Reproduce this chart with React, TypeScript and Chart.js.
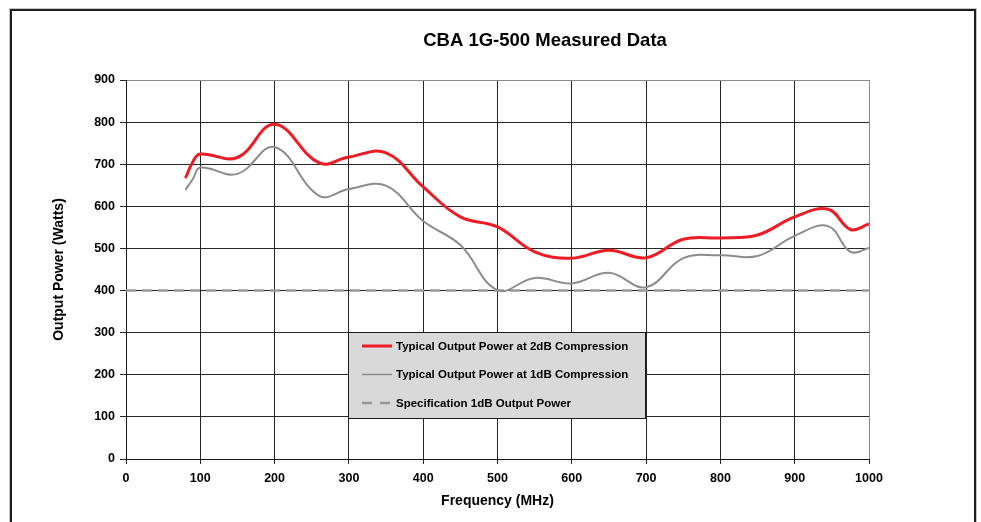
import { useEffect, useRef } from "react";
import { Chart, registerables } from "chart.js";

Chart.register(...registerables);

const FONT = "'Liberation Sans', Arial, Helvetica, sans-serif";

const chartTitle = "CBA 1G-500 Measured Data";
const xAxisTitle = "Frequency (MHz)";
const yAxisTitle = "Output Power (Watts)";

const frequencies = [80, 90, 100, 150, 200, 260, 300, 350, 400, 450, 500, 550, 600, 650, 700, 750, 800, 850, 900, 945, 975, 1000];
const power2dB = [667, 706, 724, 716, 795, 703, 717, 727, 646, 575, 551, 492, 477, 496, 478, 522, 525, 532, 575, 593, 545, 558];
const power1dB = [639, 665, 692, 677, 741, 625, 641, 649, 565, 508, 401, 430, 417, 442, 408, 477, 484, 482, 530, 553, 492, 501];
const specFrequencies = [0, 1000];
const specPower = [400, 400];

const seriesLabels = [
  "Typical Output Power at 2dB Compression",
  "Typical Output Power at 1dB Compression",
  "Specification 1dB Output Power",
];

const xMin = 0;
const xMax = 1000;
const xStep = 100;
const yMin = 0;
const yMax = 900;
const yStep = 100;

const toPoints = (xs: number[], ys: number[]) => xs.map((x, i) => ({ x, y: ys[i] }));

const framePlugin = {
  id: "frame",
  beforeDraw(chart: any) {
    const { ctx, width, height } = chart;
    ctx.save();
    ctx.fillStyle = "#ffffff";
    ctx.fillRect(0, 0, width, height);
    ctx.strokeStyle = "#c8c8c8";
    ctx.lineWidth = 1;
    ctx.strokeRect(9.5, 8.5, 967, height + 20);
    ctx.strokeStyle = "#1e1e1e";
    ctx.lineWidth = 2;
    ctx.strokeRect(11, 10, 964, height + 20);
    ctx.restore();
  },
  afterDraw(chart: any) {
    const { ctx } = chart;
    ctx.save();
    ctx.fillStyle = "#000000";
    ctx.font = `bold 18.5px ${FONT}`;
    ctx.textAlign = "center";
    ctx.textBaseline = "middle";
    ctx.fillText(chartTitle, 545, 41);
    ctx.restore();
  },
};

const legendBoxPlugin = {
  id: "legendBox",
  afterDatasetsDraw(chart: any) {
    const { ctx, chartArea } = chart;
    const left = chartArea.left + 222;
    const top = chartArea.top + 252;
    const w = 297;
    const h = 86;
    ctx.save();
    ctx.fillStyle = "#d9d9d9";
    ctx.fillRect(left, top, w, h);
    ctx.strokeStyle = "#1a1a1a";
    ctx.lineWidth = 1;
    ctx.strokeRect(left + 0.5, top + 0.5, w, h);
    const rows = [14, 42.5, 71];
    chart.data.datasets.forEach((ds: any, i: number) => {
      const y = top + rows[i];
      ctx.beginPath();
      ctx.strokeStyle = ds.borderColor;
      ctx.lineWidth = i === 1 ? 1.5 : ds.borderWidth;
      ctx.setLineDash(ds.borderDash ? [10, 8] : []);
      ctx.moveTo(left + 14, y);
      ctx.lineTo(left + 44, y);
      ctx.stroke();
      ctx.setLineDash([]);
      ctx.fillStyle = "#000000";
      ctx.font = `bold 11.5px ${FONT}`;
      ctx.textAlign = "left";
      ctx.textBaseline = "middle";
      ctx.fillText(ds.label, left + 48, y + 0.5);
    });
    ctx.restore();
  },
};

export default function App() {
  const canvasRef = useRef<HTMLCanvasElement | null>(null);

  useEffect(() => {
    document.body.style.margin = "0";
    const canvas = canvasRef.current;
    if (!canvas) return;
    const chart = new Chart(canvas, {
      type: "line",
      data: {
        datasets: [
          {
            label: seriesLabels[0],
            data: toPoints(frequencies, power2dB),
            borderColor: "#ee1c25",
            borderWidth: 3,
            pointRadius: 0,
            tension: 0.4,
            fill: false,
          },
          {
            label: seriesLabels[1],
            data: toPoints(frequencies, power1dB),
            borderColor: "#8c8c8c",
            borderWidth: 2,
            pointRadius: 0,
            tension: 0.4,
            fill: false,
          },
          {
            label: seriesLabels[2],
            data: toPoints(specFrequencies, specPower),
            borderColor: "#999999",
            borderWidth: 2.5,
            borderDash: [10, 6],
            pointRadius: 0,
            tension: 0,
            fill: false,
          },
        ],
      },
      options: {
        animation: false,
        responsive: false,
        devicePixelRatio: 1,
        layout: { padding: { left: 51, right: 112, top: 80, bottom: 12 } },
        plugins: {
          legend: { display: false },
          title: { display: false },
          tooltip: { enabled: false },
        },
        scales: {
          x: {
            type: "linear",
            min: xMin,
            max: xMax,
            ticks: {
              stepSize: xStep,
              color: "#000000",
              font: { family: FONT, size: 12.5, weight: "bold" },
              padding: 7,
              maxRotation: 0,
              callback: (v: any) => String(v),
            },
            grid: {
              color: (c: any) => (c.tick && c.tick.value === xMax ? "#8a8a8a" : "#262626"),
              tickColor: "#262626",
              tickLength: 5,
              lineWidth: 1,
            },
            border: { display: true, color: "#1a1a1a", width: 1 },
            title: {
              display: true,
              text: xAxisTitle,
              color: "#000000",
              font: { family: FONT, size: 14, weight: "bold" },
              padding: 0,
            },
            afterFit: (s: any) => {
              s.height = 51;
            },
          },
          y: {
            type: "linear",
            min: yMin,
            max: yMax,
            ticks: {
              stepSize: yStep,
              color: "#000000",
              font: { family: FONT, size: 12.5, weight: "bold" },
              padding: 5,
              callback: (v: any) => String(v),
            },
            grid: {
              color: (c: any) => (c.tick && c.tick.value === yMax ? "#8a8a8a" : "#262626"),
              tickColor: "#262626",
              tickLength: 6,
              lineWidth: 1,
            },
            border: { display: true, color: "#1a1a1a", width: 1 },
            title: {
              display: true,
              text: yAxisTitle,
              color: "#000000",
              font: { family: FONT, size: 14, weight: "bold" },
              padding: 0,
            },
            afterFit: (s: any) => {
              s.width = 75;
            },
          },
        },
      },
      plugins: [framePlugin, legendBoxPlugin],
    } as any);
    return () => chart.destroy();
  }, []);

  return (
    <canvas
      ref={canvasRef}
      width={981}
      height={522}
      style={{ display: "block", width: 981, height: 522 }}
    />
  );
}
